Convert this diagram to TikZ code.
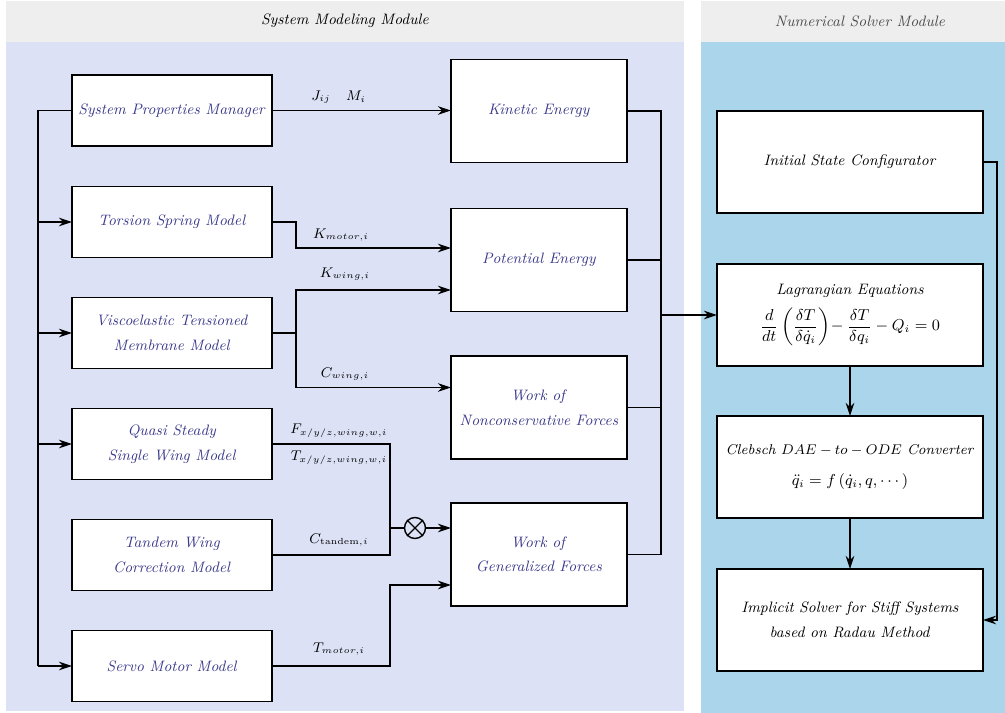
\documentclass[tikz,border=0pt]{standalone}
\usepackage{amsmath}
\usetikzlibrary{arrows.meta,calc,positioning}
\definecolor{hdgray}{RGB}{238,238,238}
\definecolor{modbg}{RGB}{220,225,245}
\definecolor{solbg}{RGB}{171,213,234}
\definecolor{labblue}{RGB}{58,58,140}

\begin{document}
\begin{tikzpicture}[x=0.02cm,y=-0.02cm,>={Stealth[length=2.6mm,width=1.7mm]},
 every node/.style={font=\fontsize{8.6}{10.5}\selectfont},
 blk/.style={draw,fill=white,line width=0.8pt,align=center,outer sep=0pt,inner sep=2pt,text=labblue},
 lblk/.style={blk,minimum width=4cm,minimum height=1.42cm,
  execute at begin node=\setlength{\baselineskip}{14pt}},
 mblk/.style={lblk,minimum width=3.52cm,minimum height=2.06cm},
 rblk/.style={blk,minimum width=5.32cm,minimum height=2.04cm,text=black},
 lab/.style={font=\footnotesize},
 wire/.style={semithick}]
\useasboundingbox (0,0) rectangle (1005,713);
% panels
\fill[hdgray] (6,1) rectangle (684,42);
\fill[modbg] (6,42) rectangle (684,711);
\fill[hdgray] (701,1) rectangle (1005,42);
\fill[solbg] (701,42) rectangle (1005,713);
\node (hm) at (345,21) {\textit{System Modeling Module}};
\node[text=black!70] (hs) at (860,21) {\textit{Numerical Solver Module}};
% model blocks
\node[lblk] (spm) at (172,110.5) {\textit{System Properties Manager}};
\node[lblk] (tsm) at (172,222) {\textit{Torsion Spring Model}};
\node[lblk] (vtm) at (172,333) {\textit{Viscoelastic Tensioned}\\\textit{Membrane Model}};
\node[lblk] (qsm) at (172,444) {\textit{Quasi Steady}\\\textit{Single Wing Model}};
\node[lblk] (tcm) at (172,555) {\textit{Tandem Wing}\\\textit{Correction Model}};
\node[lblk] (svm) at (172,666) {\textit{Servo Motor Model}};
% energy blocks
\node[mblk] (kin) at (539,111) {\textit{Kinetic Energy}};
\node[mblk] (pot) at (539,260) {\textit{Potential Energy}};
\node[mblk] (wnc) at (539,407.5) {\textit{Work of}\\\textit{Nonconservative Forces}};
\node[mblk] (wgf) at (539,554.5) {\textit{Work of}\\\textit{Generalized Forces}};
% solver blocks
\node[rblk] (isc) at (850,162) {\textit{Initial State Configurator}};
\node[rblk] (lag) at (850,315) {\textit{Lagrangian Equations}\\[5pt]
 $\dfrac{d}{dt}\left(\dfrac{\delta T}{\delta\dot{q}_i}\right)\!-\dfrac{\delta T}{\delta q_i}-Q_i=0$};
\node[rblk] (ceq) at (850,467) {{\fontsize{8.1}{10}\selectfont\textit{Clebsch} $DAE-to-ODE$ \textit{Converter}}\\[7pt]
 $\ddot{q}_i=f\left(\dot{q}_i,q,\cdots\right)$};
\node[rblk,execute at begin node=\setlength{\baselineskip}{14pt}] (isr) at (850,620)
 {\textit{Implicit Solver for Stiff Systems}\\\textit{based on Radau Method}};
% bus on the left
\coordinate (bus) at (38,0);
\draw[wire] (spm.west) -- (bus |- spm.west) -- (bus |- svm.west);
\foreach \n in {tsm,vtm,qsm,svm}
 \draw[wire,->] (bus |- \n.west) -- (\n.west);
% model outputs
\draw[wire,->] (spm.east) -- (kin.west |- spm.east);
\draw[wire,->] (tsm.east) -- ++(24,0) |- ($(pot.west)+(0,-12)$);
\draw[wire] (vtm.east) -- ++(24,0) coordinate (vj);
\draw[wire,->] (vj) |- ($(pot.west)+(0,30)$);
\draw[wire,->] (vj) |- ($(wnc.west)+(0,-20)$);
\node[draw,circle,inner sep=0pt,minimum size=0.42cm,line width=0.8pt] (mul) at (415,528) {};
\draw[line width=0.8pt] (mul.north west) -- (mul.south east) (mul.north east) -- (mul.south west);
\coordinate (jn) at (390,528);
\draw[wire] (qsm.east) -| (jn) -- (mul.west);
\draw[wire] (tcm.east) -| (jn);
\draw[wire,->] (mul.east) -- (wgf.west |- mul.east);
\draw[wire,->] (svm.east) -- (390,666) |- ($(wgf.west)+(0,30.5)$);
% labels
\node[lab] (jij) at (321,97) {$J_{\scriptscriptstyle ij}$};
\node[lab] (mi) at (356,97) {$M_{\scriptscriptstyle i}$};
\node[lab] (km) at (341,235) {$K_{\scriptscriptstyle motor,i}$};
\node[lab] (kw) at (345,274) {$K_{\scriptscriptstyle wing,i}$};
\node[lab] (cw) at (345,374) {$C_{\scriptscriptstyle wing,i}$};
\node[lab] (fw) at (339,431) {$F_{\scriptscriptstyle x/y/z,wing,w,i}$};
\node[lab] (tw) at (339,458) {$T_{\scriptscriptstyle x/y/z,wing,w,i}$};
\node[lab] (ct) at (339,540) {$C_{\scriptscriptstyle\mathrm{tandem},i}$};
\node[lab] (tm) at (339,649) {$T_{\scriptscriptstyle motor,i}$};
% merge into solver
\coordinate (mx) at (661,0);
\draw[wire] (kin.east) -| (mx |- wgf.east) -- (wgf.east);
\draw[wire] (pot.east) -- (mx |- pot.east);
\draw[wire] (wnc.east) -- (mx |- wnc.east);
\draw[thick,->] (mx |- lag.west) -- (lag.west);
\draw[wire,->] (lag.south) -- (ceq.north);
\draw[wire,->] (ceq.south) -- (isr.north);
\draw[wire,->] (isc.east) -- ++(14,0) |- (isr.east);
\end{tikzpicture}
\end{document}
